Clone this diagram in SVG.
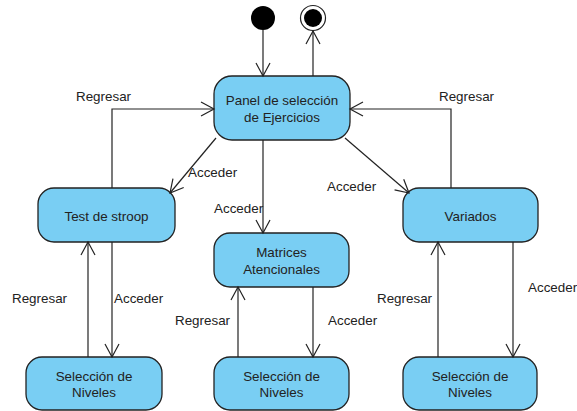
<svg xmlns="http://www.w3.org/2000/svg" width="577" height="411" viewBox="0 0 577 411">
<defs>
<marker id="arr" markerUnits="userSpaceOnUse" markerWidth="20" markerHeight="20" viewBox="-15 -10 20 20" refX="0" refY="0" orient="auto">
<path d="M-13,-7 L0,0 L-13,7" fill="none" stroke="#222" stroke-width="1.2"/>
</marker>
</defs>
<style>
.node rect{fill:#79cef3;stroke:#222;stroke-width:1.3}
text{font-family:"Liberation Sans",Arial,sans-serif;font-size:13.4px;fill:#222}
.c{text-anchor:middle}
.conn path{fill:none;stroke:#222;stroke-width:1.2;marker-end:url(#arr)}
</style>
<g id="start"><circle cx="263" cy="18" r="12" fill="#000"/></g>
<g id="end"><circle cx="313" cy="18" r="12.5" fill="#fff" stroke="#222" stroke-width="1.2"/><circle cx="313" cy="18" r="9" fill="#000"/></g>
<g id="panel" class="node"><rect x="214" y="76" width="136" height="64" rx="18"/><text class="c" x="282" y="105">Panel de selección</text><text class="c" x="282" y="122">de Ejercicios</text></g>
<g id="stroop" class="node"><rect x="38" y="188" width="137" height="54" rx="16"/><text class="c" x="106.5" y="221">Test de stroop</text></g>
<g id="matrices" class="node"><rect x="214" y="233" width="135" height="54" rx="16"/><text class="c" x="281.5" y="257">Matrices</text><text class="c" x="281.5" y="274">Atencionales</text></g>
<g id="variados" class="node"><rect x="403" y="188" width="135" height="54" rx="16"/><text class="c" x="470.5" y="221">Variados</text></g>
<g id="niveles1" class="node"><rect x="26" y="357" width="136" height="53" rx="16"/><text class="c" x="94" y="381">Selección de</text><text class="c" x="94" y="397">Niveles</text></g>
<g id="niveles2" class="node"><rect x="214" y="357" width="135" height="53" rx="16"/><text class="c" x="281.5" y="381">Selección de</text><text class="c" x="281.5" y="397">Niveles</text></g>
<g id="niveles3" class="node"><rect x="403" y="357" width="134" height="53" rx="16"/><text class="c" x="470" y="381">Selección de</text><text class="c" x="470" y="397">Niveles</text></g>
<g id="connectors" class="conn">
<path d="M263,30 L263,76"/>
<path d="M313,76 L313,31"/>
<path d="M112,188 L112,109 L214,109"/>
<path d="M216,138 L170,193"/>
<path d="M263,140 L263,233"/>
<path d="M345,138 L409,193"/>
<path d="M451,188 L451,109 L350,109"/>
<path d="M112,242 L112,357"/>
<path d="M88,357 L88,242"/>
<path d="M313,287 L313,357"/>
<path d="M238,357 L238,287"/>
<path d="M513,242 L513,357"/>
<path d="M438,357 L438,242"/>
</g>
<g id="labels">
<text x="76" y="101">Regresar</text>
<text x="439" y="101">Regresar</text>
<text x="188" y="177">Acceder</text>
<text x="214" y="213">Acceder</text>
<text x="327" y="191">Acceder</text>
<text x="12" y="303">Regresar</text>
<text x="114" y="303">Acceder</text>
<text x="175" y="325">Regresar</text>
<text x="328" y="325">Acceder</text>
<text x="377" y="303">Regresar</text>
<text x="528" y="292">Acceder</text>
</g>
</svg>
